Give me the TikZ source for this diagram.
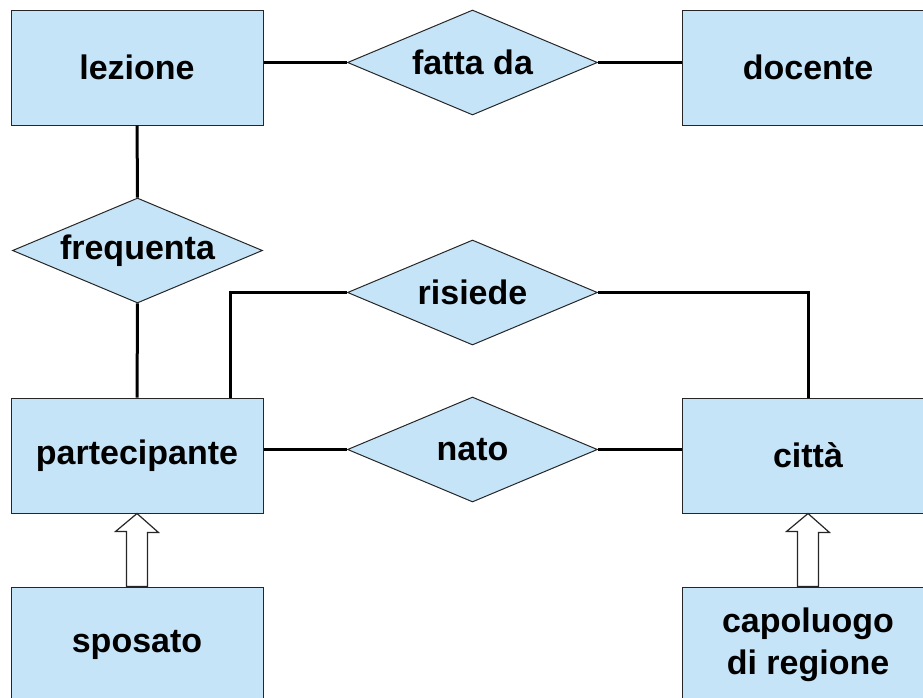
\documentclass[tikz,border=0pt]{standalone}
\usepackage{fontspec}
\setmainfont{Liberation Sans}
\usetikzlibrary{shapes.geometric}
\definecolor{erblue}{RGB}{198,228,248}

\begin{document}
\begin{tikzpicture}[x=1pt,y=-1pt,
  ent/.style={rectangle,draw=black!85,fill=erblue,line width=1pt,minimum width=252pt,minimum height=115pt,inner sep=0pt,align=center},
  rel/.style={diamond,draw=black!85,fill=erblue,line width=1pt,minimum width=250pt,minimum height=105pt,aspect=2.4,inner sep=0pt},
  link/.style={black,line width=3pt},
  isa/.style={draw=black!85,fill=white,line width=1.2pt},
  every node/.style={font=\fontsize{34}{42}\selectfont\bfseries}
]
  \useasboundingbox (0,0) rectangle (923,697);
  \node[ent] (lezione) at (137,67.5) {lezione};
  \node[ent] (docente) at (808,67.5) {docente};
  \node[ent] (partecipante) at (137,455.5) {partecipante};
  \node[ent] (citta) at (808,455.5) {città};
  \node[ent] (sposato) at (137,644.5) {sposato};
  \node[ent] (capoluogo) at (808,644.5) {capoluogo\\di regione};
  \node[rel] (fattada) at (472.5,62.5) {fatta da};
  \node[rel] (frequenta) at (137.5,250.5) {frequenta};
  \node[rel] (risiede) at (472.5,292.5) {risiede};
  \node[rel] (nato) at (472.5,449.5) {nato};
  % relationships
  \draw[link] (fattada.west) -- (fattada.west -| lezione.east);
  \draw[link] (fattada.east) -- (fattada.east -| docente.west);
  \draw[link] (lezione) -- (frequenta);
  \draw[link] (frequenta) -- (partecipante);
  \draw[link] ([xshift=93pt]partecipante.north) |- (risiede.west);
  \draw[link] (risiede.east) -| (citta.north);
  \draw[link] (nato.west) -- (nato.west -| partecipante.east);
  \draw[link] (nato.east) -- (nato.east -| citta.west);
  % generalizations
  \draw[isa] ([xshift=-10.5pt]sposato.north) -- ++(0,-55) -- ++(-11,0) -- (partecipante.south)
    -- ++(21.5,19) -- ++(-11,0) -- ([xshift=10.5pt]sposato.north) -- cycle;
  \draw[isa] ([xshift=-10.5pt]capoluogo.north) -- ++(0,-55) -- ++(-11,0) -- (citta.south)
    -- ++(21.5,19) -- ++(-11,0) -- ([xshift=10.5pt]capoluogo.north) -- cycle;
\end{tikzpicture}
\end{document}
